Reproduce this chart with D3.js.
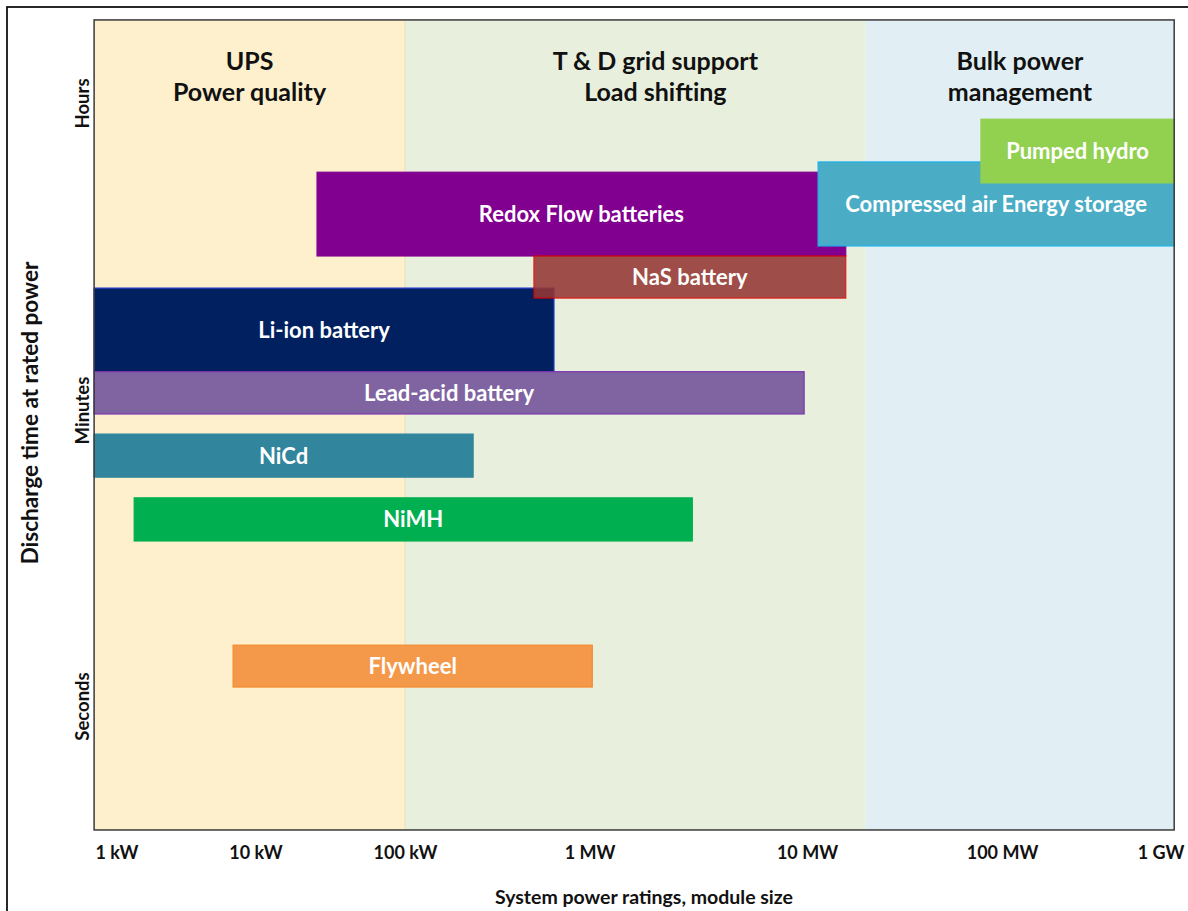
<!DOCTYPE html>
<html>
<head>
<meta charset="utf-8">
<script src="https://cdn.jsdelivr.net/npm/d3@7"></script>
<style>
  html, body { margin: 0; padding: 0; background: #ffffff; }
  svg { display: block; font-family: Lato, "Open Sans", sans-serif; font-weight: 700; }
</style>
</head>
<body>
<svg id="chart" width="1188" height="911"></svg>
<script>
// ---- data -------------------------------------------------------------
// Power in watts, discharge time in seconds.
const P_MIN = 690;        // left edge of the power axis
const P_MAX = 1.22e9;     // right edge of the power axis
const T_MIN = 0.18;       // bottom edge of the time axis
const T_MAX = 10900;      // top edge of the time axis

const powerTicks = [1e3, 1e4, 1e5, 1e6, 1e7, 1e8, 1e9];
const powerTickLabels = ["1 kW", "10 kW", "100 kW", "1 MW", "10 MW", "100 MW", "1 GW"];

const timeTicks = [3600, 60, 1];
const timeTickLabels = ["Hours", "Minutes", "Seconds"];

// Application bands along the power axis
const bandNames = [["UPS", "Power quality"], ["T & D grid support", "Load shifting"], ["Bulk power", "management"]];
const bandFrom = [P_MIN, 1e5, 2e7];
const bandTo = [1e5, 2e7, P_MAX];
const bandFill = ["#fef0cd", "#e9efdd", "#e1eff4"];
const bandEdge = ["#eadfb8", "none", "none"];

// Storage technologies, listed in drawing order
const technologies = ["Redox Flow batteries", "Compressed air Energy storage", "Pumped hydro",
  "Li-ion battery", "NaS battery", "Lead-acid battery", "NiCd", "NiMH", "Flywheel"];
const powerLow  = [25800, 11.4e6, 78e6, P_MIN, 500e3, P_MIN, P_MIN, 1340, 6900];
const powerHigh = [15.8e6, P_MAX, P_MAX, 642e3, 15.8e6, 9.7e6, 234e3, 2.97e6, 1.03e6];
const timeLow   = [468, 535, 1240, 100, 267, 56.8, 23.7, 9.8, 1.30];
const timeHigh  = [1430, 1640, 2900, 305, 468, 100, 43, 17.8, 2.32];
const techFill   = ["#81008f", "#4bacc6", "#92d050", "#002060", "#953735", "#8064a2", "#31859c", "#00b050", "#f4984a"];
const techStroke = ["#81008f", "#1cb2ec", "#92d050", "#2a3bd0", "#e00000", "#7a34b0", "#31859c", "#00b050", "#f58a2e"];
const techOpacity = [1, 1, 1, 1, 0.88, 1, 1, 1, 1];

// ---- scales -----------------------------------------------------------
const x = d3.scaleLog()
  .domain(powerTicks)
  .range([116.5, 255.5, 405, 589.5, 807, 1002, 1160.5]);

const y = d3.scaleLog()
  .domain([1, 60, 3600])
  .range([706, 410, 103]);

const svg = d3.select("#chart");

// outer frame
svg.append("rect")
  .attr("x", 7).attr("y", 7)
  .attr("width", 1300).attr("height", 1000)
  .attr("fill", "none").attr("stroke", "#111").attr("stroke-width", 1.8);

const plotLeft = x(P_MIN), plotRight = x(P_MAX), plotTop = y(T_MAX), plotBottom = y(T_MIN);

// application bands
svg.append("g").selectAll("rect")
  .data(bandNames)
  .join("rect")
  .attr("x", (d, i) => x(bandFrom[i]))
  .attr("y", plotTop)
  .attr("width", (d, i) => x(bandTo[i]) - x(bandFrom[i]))
  .attr("height", plotBottom - plotTop)
  .attr("fill", (d, i) => bandFill[i]);

// band edge hairlines (right side of each band)
svg.append("g").selectAll("line")
  .data(bandTo)
  .join("line")
  .attr("x1", d => x(d)).attr("x2", d => x(d))
  .attr("y1", plotTop).attr("y2", plotBottom)
  .attr("stroke", (d, i) => bandEdge[i]).attr("stroke-width", 1);

// band titles
const titleShift = [0, 20, 0];
const titles = svg.append("g")
  .attr("font-size", 25)
  .attr("fill", "#111")
  .attr("text-anchor", "middle");
bandNames.forEach((lines, i) => {
  const cx = (x(bandFrom[i]) + x(bandTo[i])) / 2 + titleShift[i];
  lines.forEach((t, j) => {
    titles.append("text")
      .attr("x", cx)
      .attr("y", 70 + j * 31)
      .text(t);
  });
});

// technology bars
const bars = svg.append("g").selectAll("g")
  .data(technologies)
  .join("g")
  .attr("opacity", (d, i) => techOpacity[i]);

bars.append("rect")
  .attr("x", (d, i) => x(powerLow[i]))
  .attr("y", (d, i) => y(timeHigh[i]))
  .attr("width", (d, i) => x(powerHigh[i]) - x(powerLow[i]))
  .attr("height", (d, i) => y(timeLow[i]) - y(timeHigh[i]))
  .attr("fill", (d, i) => techFill[i])
  .attr("stroke", (d, i) => techStroke[i])
  .attr("stroke-width", 1.2);

bars.append("text")
  .attr("x", (d, i) => (x(powerLow[i]) + x(powerHigh[i])) / 2)
  .attr("y", (d, i) => (y(timeLow[i]) + y(timeHigh[i])) / 2)
  .attr("dy", "0.36em")
  .attr("text-anchor", "middle")
  .attr("font-size", 22)
  .attr("fill", "#ffffff")
  .text(d => d);

// plot border
svg.append("rect")
  .attr("x", plotLeft).attr("y", plotTop)
  .attr("width", plotRight - plotLeft).attr("height", plotBottom - plotTop)
  .attr("fill", "none").attr("stroke", "#3a3a3a").attr("stroke-width", 1.5);

// x axis
const xAxis = svg.append("g")
  .attr("transform", `translate(0,${plotBottom})`)
  .call(d3.axisBottom(x)
    .tickValues(powerTicks)
    .tickFormat((d, i) => powerTickLabels[i])
    .tickSize(0)
    .tickPadding(16));
xAxis.select(".domain").remove();
xAxis.selectAll("text")
  .attr("font-family", "Lato, sans-serif")
  .attr("font-weight", 700)
  .attr("font-size", 18)
  .attr("fill", "#111");

// y axis
const yAxis = svg.append("g")
  .attr("transform", `translate(${plotLeft},0)`)
  .call(d3.axisLeft(y)
    .tickValues(timeTicks)
    .tickFormat((d, i) => timeTickLabels[i])
    .tickSize(0));
yAxis.select(".domain").remove();
yAxis.selectAll("text")
  .attr("font-family", "Lato, sans-serif")
  .attr("font-weight", 700)
  .attr("font-size", 18.5)
  .attr("fill", "#111")
  .attr("text-anchor", "middle")
  .attr("transform", "rotate(-90)")
  .attr("x", 0)
  .attr("y", -5)
  .attr("dy", 0);

// axis titles
svg.append("text")
  .attr("x", 644).attr("y", 904)
  .attr("text-anchor", "middle")
  .attr("font-size", 19.5)
  .attr("fill", "#111")
  .text("System power ratings, module size");

svg.append("text")
  .attr("transform", "translate(38,413) rotate(-90)")
  .attr("text-anchor", "middle")
  .attr("font-size", 22.5)
  .attr("fill", "#111")
  .text("Discharge time at rated power");
</script>
</body>
</html>
